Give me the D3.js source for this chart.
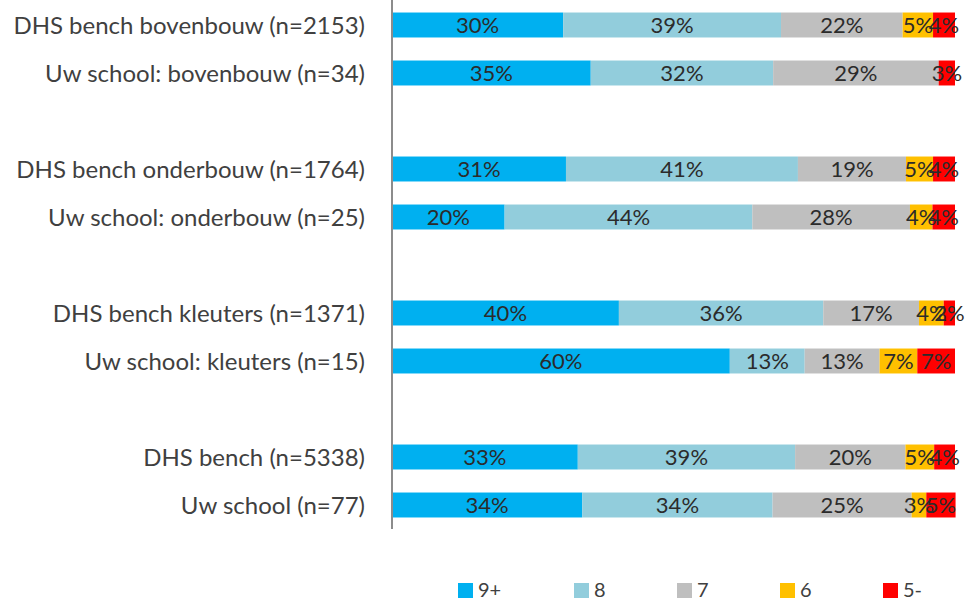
<!DOCTYPE html>
<html><head><meta charset="utf-8">
<script src="https://cdn.jsdelivr.net/npm/d3@7"></script>
<style>body{margin:0;background:#fff}svg{display:block}</style>
</head><body>
<svg id="c" width="966" height="602"></svg>
<script>
const categories = [
  "DHS bench bovenbouw (n=2153)",
  "Uw school: bovenbouw (n=34)",
  "",
  "DHS bench onderbouw (n=1764)",
  "Uw school: onderbouw (n=25)",
  "",
  "DHS bench kleuters (n=1371)",
  "Uw school: kleuters (n=15)",
  "",
  "DHS bench (n=5338)",
  "Uw school (n=77)"
];
const seriesNames = ["9+", "8", "7", "6", "5-"];
const seriesColors = ["#00B0F0", "#92CDDC", "#BFBFBF", "#FFC000", "#FF0000"];
const s9plus = [30.4, 35.3, null, 30.9, 20.0, null, 40.3, 60.0, null, 33.0, 33.8];
const s8     = [38.7, 32.4, null, 41.2, 44.0, null, 36.3, 13.3, null, 38.6, 33.8];
const s7     = [21.6, 29.4, null, 19.2, 28.0, null, 17.0, 13.3, null, 19.6, 24.7];
const s6     = [5.4,  0,    null, 4.8,  4.0,  null, 4.4,  6.7,  null, 5.1,  2.6];
const s5min  = [3.9,  2.9,  null, 3.9,  4.0,  null, 2.0,  6.7,  null, 3.7,  5.2];
const series = [s9plus, s8, s7, s6, s5min];

(function () {
const svg = d3.select("#c");
const font = "Lato, 'Open Sans', sans-serif";
const pLeft = 392, pRight = 955, pTop = 1, pBottom = 529;

const x = d3.scaleLinear().domain([0, 100]).range([pLeft, pRight]);
const y = d3.scaleBand().domain(d3.range(categories.length)).range([pTop, pBottom]).paddingInner(0.48).paddingOuter(0.24);

categories.forEach((cat, i) => {
  if (!cat) return;
  let acc = 0;
  series.forEach((s, k) => {
    const v = s[i];
    const x0 = x(acc), x1 = x(acc + v);
    acc += v;
    if (!v) return;
    svg.append("rect").attr("x", x0).attr("y", y(i)).attr("width", x1 - x0).attr("height", y.bandwidth()).attr("fill", seriesColors[k]);
  });
  acc = 0;
  series.forEach((s, k) => {
    const v = s[i];
    const xm = x(acc + v / 2);
    acc += v;
    if (!v) return;
    svg.append("text").attr("x", xm).attr("y", y(i) + y.bandwidth() / 2).attr("dy", "0.36em")
      .attr("text-anchor", "middle").attr("font-family", font).attr("font-size", 22).attr("fill", "#2b2b2b")
      .text(Math.round(v) + "%");
  });
  svg.append("text").attr("x", 365).attr("y", y(i) + y.bandwidth() / 2).attr("dy", "0.36em")
    .attr("text-anchor", "end").attr("font-family", font).attr("font-size", 24).attr("fill", "#404040").text(cat);
});

svg.append("line").attr("x1", pLeft).attr("x2", pLeft).attr("y1", 0).attr("y2", pBottom)
  .attr("stroke", "#8c8c8c").attr("stroke-width", 2);

const legendX = [458, 574, 677, 780, 883];
seriesNames.forEach((n, k) => {
  svg.append("rect").attr("x", legendX[k]).attr("y", 583).attr("width", 15).attr("height", 15).attr("fill", seriesColors[k]);
  svg.append("text").attr("x", legendX[k] + 20).attr("y", 597)
    .attr("font-family", font).attr("font-size", 20).attr("fill", "#404040").text(n);
});
})();
</script>
</body></html>
